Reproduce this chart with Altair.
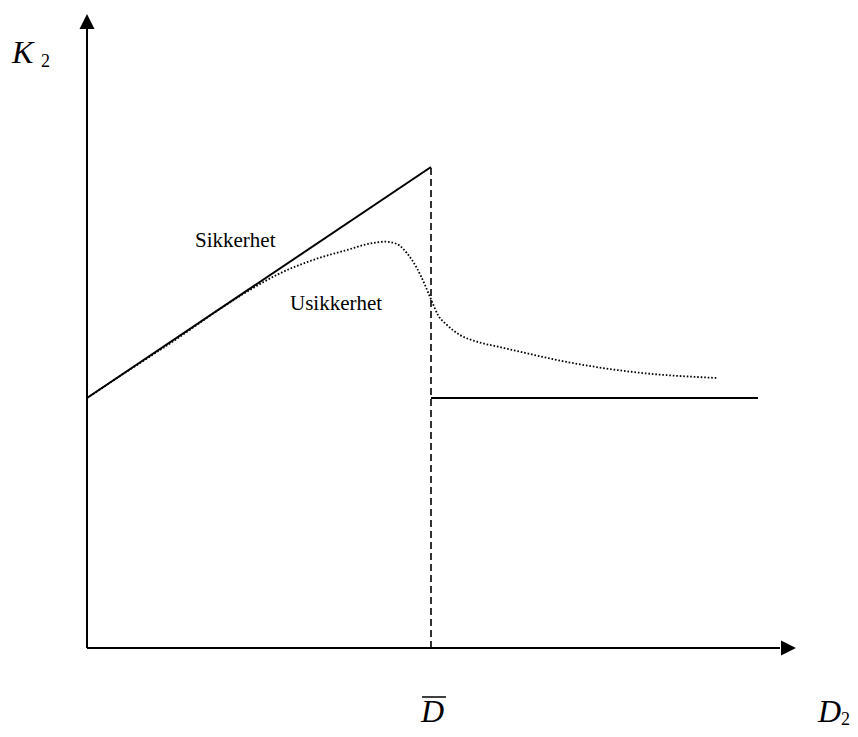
import altair as alt
import pandas as pd

# ---- data (units; origin at the axes' corner) ----
certain_x = [0, 344]
certain_y = [250, 481]
flat_x = [344, 671]
flat_y = [250, 250]
dbar_x = [344, 344]
dbar_y = [0, 481]
uncertain_x = [0, 33, 63, 93, 126, 160, 193, 226, 260, 283, 298, 310, 320, 330,
               338, 345, 351, 360, 373, 390, 411, 423, 480, 546, 630]
uncertain_y = [250, 272, 291.5, 311.3, 334.5, 356.3, 374.7, 388, 398, 404.5, 406.3,
               404, 394.7, 379.7, 363, 346.3, 333, 323, 313, 306.3, 301.3, 298.6,
               286, 276, 270]
xaxis_x = [0, 693]
xaxis_y = [0, 0]
yaxis_x = [0, 0]
yaxis_y = [0, 620]
arrow_x = [0, 701.5]
arrow_y = [626.5, 0]
arrow_shape = ["M0,-1L1,1L-1,1Z", "M1,0L-1,-1L-1,1Z"]
curve_labels = ["Sikkerhet", "Usikkerhet"]
curve_label_x = [108, 203]
curve_label_y = [401, 338]
main_labels = ["K", "D", "D"]
main_label_x = [-75, 334, 731]
main_label_y = [585, -74, -74]
sub_labels = ["2", "2"]
sub_label_x = [-46, 754]
sub_label_y = [581, -77]
overline_x = [335]
overline_x2 = [359]
overline_y = [-49]

XS = alt.Scale(domain=[-79, 763], nice=False, zero=False)
YS = alt.Scale(domain=[-81, 640], nice=False, zero=False)


def xy():
    return dict(x=alt.X("x:Q", scale=XS, axis=None),
                y=alt.Y("y:Q", scale=YS, axis=None))


def line_layer(xs, ys, **kw):
    df = pd.DataFrame({"x": xs, "y": ys, "o": range(len(xs))})
    return alt.Chart(df).mark_line(color="black", **kw).encode(order="o:O", **xy())


certain = line_layer(certain_x, certain_y, strokeWidth=2)
flat = line_layer(flat_x, flat_y, strokeWidth=2)
dbar = line_layer(dbar_x, dbar_y, strokeWidth=1.6, strokeDash=[7, 4])
uncertain = line_layer(uncertain_x, uncertain_y, strokeWidth=1.8,
                       strokeDash=[1.6, 1.9], interpolate="monotone")
xaxis = line_layer(xaxis_x, xaxis_y, strokeWidth=2)
yaxis = line_layer(yaxis_x, yaxis_y, strokeWidth=2)

arrows_df = pd.DataFrame({"x": arrow_x, "y": arrow_y, "shape": arrow_shape})
arrows = alt.Chart(arrows_df).mark_point(filled=True, color="black", opacity=1,
                                         size=225, strokeWidth=0).encode(
    shape=alt.Shape("shape:N", scale=None), **xy())

cl_df = pd.DataFrame({"x": curve_label_x, "y": curve_label_y, "t": curve_labels})
curve_text = alt.Chart(cl_df).mark_text(font="Liberation Serif", fontSize=21,
                                        align="left", baseline="alphabetic",
                                        color="black").encode(text="t:N", **xy())

ml_df = pd.DataFrame({"x": main_label_x, "y": main_label_y, "t": main_labels})
main_text = alt.Chart(ml_df).mark_text(font="Liberation Serif", fontSize=32,
                                       fontStyle="italic", align="left",
                                       baseline="alphabetic",
                                       color="black").encode(text="t:N", **xy())

sl_df = pd.DataFrame({"x": sub_label_x, "y": sub_label_y, "t": sub_labels})
sub_text = alt.Chart(sl_df).mark_text(font="Liberation Serif", fontSize=18,
                                      align="left", baseline="alphabetic",
                                      color="black").encode(text="t:N", **xy())

ol_df = pd.DataFrame({"x": overline_x, "x2": overline_x2, "y": overline_y})
overline = alt.Chart(ol_df).mark_rule(color="black", strokeWidth=1.5).encode(
    x=alt.X("x:Q", scale=XS, axis=None), x2="x2:Q",
    y=alt.Y("y:Q", scale=YS, axis=None))

chart = alt.layer(
    xaxis, yaxis, arrows, dbar, certain, flat, uncertain,
    curve_text, main_text, sub_text, overline
).properties(
    width=842, height=721, padding=0, background="white",
    autosize=alt.AutoSizeParams(type="none")
).configure_view(stroke=None)

chart.save("out.html", embed_options={"renderer": "svg", "actions": False})
